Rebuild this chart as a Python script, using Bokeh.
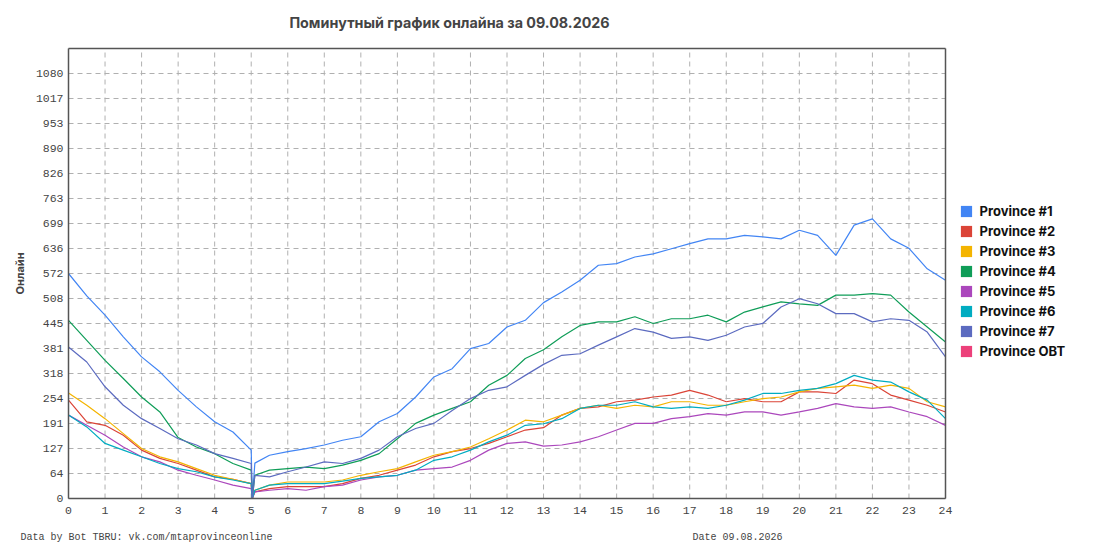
import math
from bokeh.plotting import figure
from bokeh.models import (ColumnDataSource, FixedTicker, CustomJSTickFormatter, Range1d,
                          Legend, LegendItem, Label, LinearAxis)
from bokeh.embed import file_html
from bokeh.resources import INLINE

# ---- data (hours of day, online counts) ----
hours = [0, 0.5, 1, 1.5, 2, 2.5, 3, 3.5, 4, 4.5, 5, 5.03, 5.1,
         5.5, 6, 6.5, 7, 7.5, 8, 8.5, 9, 9.5, 10, 10.5, 11, 11.5, 12, 12.5,
         13, 13.5, 14, 14.5, 15, 15.5, 16, 16.5, 17, 17.5, 18, 18.5, 19, 19.5,
         20, 20.5, 21, 21.5, 22, 22.5, 23, 23.5, 24]

province_1 = [572, 515, 466, 411, 360, 322, 275, 233, 195, 169, 123, 0, 90,
              110, 119, 127, 136, 148, 157, 195, 216, 258, 309, 330, 381, 394, 436, 453,
              498, 525, 555, 593, 597, 614, 622, 635, 648, 660, 660, 669, 665, 660,
              682, 669, 618, 695, 711, 660, 636, 584, 555]
province_2 = [250, 195, 186, 161, 123, 102, 89, 72, 55, 49, 38, 0, 17,
              25, 30, 30, 30, 38, 51, 59, 72, 85, 106, 119, 127, 140, 157, 174,
              180, 212, 229, 233, 246, 250, 258, 263, 275, 263, 246, 254, 246, 246,
              271, 271, 267, 301, 292, 263, 250, 237, 220]
province_3 = [268, 237, 203, 165, 127, 106, 93, 76, 59, 49, 38, 0, 21,
              34, 42, 42, 42, 47, 59, 68, 76, 93, 110, 119, 131, 152, 174, 199,
              195, 212, 229, 237, 229, 237, 233, 246, 246, 237, 237, 246, 254, 258,
              271, 280, 284, 288, 280, 288, 280, 246, 233]
province_4 = [453, 402, 351, 305, 258, 220, 155, 131, 114, 89, 72, 0, 59,
              72, 76, 80, 76, 85, 97, 114, 152, 191, 212, 229, 246, 288, 313, 356,
              378, 411, 440, 449, 449, 462, 445, 457, 457, 466, 449, 474, 487, 500,
              495, 491, 517, 517, 521, 517, 474, 436, 398]
province_5 = [212, 186, 161, 131, 106, 93, 72, 59, 47, 34, 25, 0, 17,
              21, 25, 21, 30, 34, 47, 55, 59, 72, 76, 80, 97, 123, 140, 144,
              133, 136, 144, 157, 174, 191, 191, 203, 208, 216, 212, 220, 220, 212,
              220, 229, 241, 233, 229, 233, 220, 208, 186]
province_6 = [212, 182, 140, 123, 106, 89, 76, 68, 55, 47, 38, 0, 21,
              34, 38, 38, 38, 44, 51, 55, 59, 72, 97, 106, 123, 144, 161, 186,
              190, 203, 229, 237, 237, 246, 233, 229, 233, 229, 237, 250, 267, 267,
              275, 280, 292, 313, 301, 296, 271, 250, 203]
province_7 = [385, 347, 284, 237, 203, 178, 152, 136, 114, 102, 89, 0, 59,
              55, 68, 80, 93, 89, 102, 123, 157, 178, 191, 224, 254, 275, 284, 313,
              341, 364, 368, 390, 411, 432, 423, 407, 411, 402, 415, 436, 445, 487,
              508, 495, 470, 470, 449, 457, 453, 423, 360]
province_obt = []  # no visible data

series_names = ["Province #1", "Province #2", "Province #3", "Province #4",
                "Province #5", "Province #6", "Province #7", "Province OBT"]
series_values = [province_1, province_2, province_3, province_4,
                 province_5, province_6, province_7, province_obt]
colors = ["#4285f4", "#db4437", "#f4b400", "#0f9d58",
          "#ab47bc", "#00acc1", "#5c6bc0", "#ec407a"]

x_min, x_max = 0, 24
y_min, y_max = 0, 1144
y_ticks = [k * y_max / 18 for k in range(18)]
x_ticks = list(range(25))

title_text = "Поминутный график онлайна за 09.08.2026"
y_label = "Онлайн"
footer_left = "Data by Bot TBRU: vk.com/mtaprovinceonline"
footer_right = "Date 09.08.2026"

# ---- layout (pixels) ----
W, H = 1087, 542
plot_left, plot_right = 68, 945      # plot area inside the canvas
plot_top, plot_bottom = 48, 498

sx = (plot_right - plot_left) / (x_max - x_min)
sy = (plot_bottom - plot_top) / (y_max - y_min)
xr = Range1d(x_min - plot_left / sx, x_max + (W - plot_right) / sx)
yr = Range1d(y_min - (H - plot_bottom) / sy, y_max + plot_top / sy)

mono = "Liberation Mono"
nan = float("nan")

p = figure(width=W, height=H, x_range=xr, y_range=yr,
           min_border=0, min_border_left=0, min_border_right=0,
           min_border_top=0, min_border_bottom=0,
           output_backend="svg", toolbar_location=None, tools="")
p.title.text = ""
p.title.visible = False
p.background_fill_color = "white"
p.border_fill_color = "white"
p.outline_line_color = None
p.xgrid.visible = False
p.ygrid.visible = False

xaxis = p.below[0]
yaxis = p.left[0]
xaxis.fixed_location = y_min
yaxis.fixed_location = x_min
xaxis.bounds = (x_min, x_max)
yaxis.bounds = (y_min, y_max)
for ax in (xaxis, yaxis):
    ax.axis_line_color = "#555555"
    ax.axis_line_width = 1.5
    ax.major_tick_line_color = None
    ax.minor_tick_line_color = None
    ax.major_tick_out = 0
    ax.major_tick_in = 0
    ax.minor_tick_out = 0
    ax.major_label_text_font = mono
    ax.major_label_text_font_size = "11.5px"
    ax.major_label_text_color = "#444444"
xaxis.ticker = FixedTicker(ticks=x_ticks)
xaxis.major_label_standoff = 8
yaxis.ticker = FixedTicker(ticks=y_ticks)
yaxis.formatter = CustomJSTickFormatter(code="return Math.round(tick).toString();")
yaxis.major_label_standoff = 5
yaxis.axis_label = y_label
yaxis.axis_label_text_font = "Inter"
yaxis.axis_label_text_font_style = "bold"
yaxis.axis_label_text_font_size = "11px"
yaxis.axis_label_text_color = "#444444"
yaxis.axis_label_standoff = 6

# top and right edges of the plot box
for side, loc, bnds in (("above", y_max, (x_min, x_max)), ("right", x_max, (y_min, y_max))):
    edge = LinearAxis(fixed_location=loc, bounds=bnds, ticker=FixedTicker(ticks=[]),
                      axis_line_color="#555555", axis_line_width=1.5,
                      major_tick_line_color=None, minor_tick_line_color=None,
                      major_tick_out=0, major_tick_in=0, minor_tick_out=0,
                      major_label_text_color=None)
    p.add_layout(edge, side)

# dashed grid at the tick positions
n_x, n_y = len(x_ticks), len(y_ticks)
p.segment(x0=x_ticks, y0=[y_min] * n_x, x1=x_ticks, y1=[y_max] * n_x,
          line_color="#b0b0b0", line_dash="5 4", line_width=1)
p.segment(x0=[x_min] * n_y, y0=y_ticks, x1=[x_max] * n_y, y1=y_ticks,
          line_color="#b0b0b0", line_dash="5 4", line_width=1)

items = []
for name, vals, col in zip(series_names, series_values, colors):
    if vals:
        src = ColumnDataSource(dict(x=hours[:len(vals)], y=vals))
        p.line("x", "y", source=src, line_color=col, line_width=1.2)
    box = p.quad(left=[nan], right=[nan], top=[nan], bottom=[nan],
                 fill_color=col, line_color=None)
    items.append(LegendItem(label=name, renderers=[box]))

legend = Legend(items=items, location=(958.5, 183))
legend.background_fill_alpha = 0
legend.border_line_color = None
legend.padding = 0
legend.margin = 0
legend.spacing = 4
legend.glyph_width = 14
legend.glyph_height = 14
legend.label_height = 14
legend.label_standoff = 7
legend.label_text_font = "Inter"
legend.label_text_font_style = "bold"
legend.label_text_font_size = "13px"
legend.label_text_color = "#111111"
p.add_layout(legend, "center")

p.add_layout(Label(x=449, y=H - 22, x_units="screen", y_units="screen", text=title_text,
                   text_align="center", text_baseline="middle", text_font="Inter",
                   text_font_style="bold", text_font_size="14.3px", text_color="#444444"))
p.add_layout(Label(x=20, y=H - 537, x_units="screen", y_units="screen", text=footer_left,
                   text_align="left", text_baseline="middle", text_font=mono,
                   text_font_size="10px", text_color="#444444"))
p.add_layout(Label(x=692, y=H - 537, x_units="screen", y_units="screen", text=footer_right,
                   text_align="left", text_baseline="middle", text_font=mono,
                   text_font_size="10px", text_color="#444444"))

open("out.html", "w").write(file_html(p, INLINE))
